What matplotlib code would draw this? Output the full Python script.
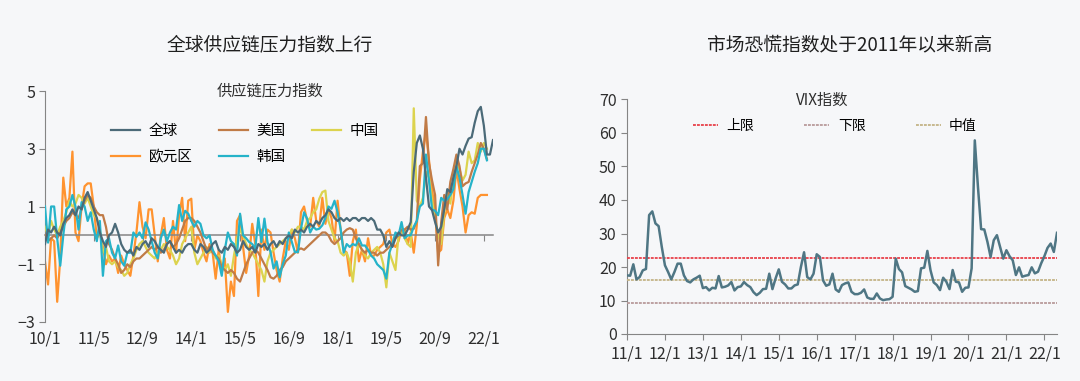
import numpy as np
import matplotlib
matplotlib.use('Agg')
import matplotlib.pyplot as plt

plt.rcParams['font.family'] = ['Noto Sans CJK SC', 'DejaVu Sans']

nan = np.nan

# ---- left chart: supply chain pressure index, monthly 2010/1 - 2022/4 ----
supply_global = [
    -0.3, 0.2, 0.1, 0.3, 0.1, 0.0, 0.4, 0.6, 0.7, 0.9, 0.7, 1.0,
    0.9, 1.3, 1.5, 1.2, 0.9, 0.6, 0.1, -0.2, -0.4, 0.0, 0.1, 0.4,
    0.1, -0.3, -0.5, -0.6, -0.5, -0.7, -0.4, -0.5, -0.3, -0.2, -0.4, -0.1,
    -0.2, -0.4, -0.5, -0.6, -0.3, -0.2, -0.4, -0.6, -0.5, -0.6, -0.4, -0.3,
    -0.3, -0.5, -0.6, -0.3, -0.4, -0.6, -0.5, -0.3, -0.2, -0.5, -0.6, -0.4,
    -0.5, -0.3, -0.4, -0.6, -0.5, -0.2, -0.4, -0.5, -0.4, -0.6, -0.3, -0.4,
    -0.3, -0.5, -0.3, -0.2, -0.4, -0.2, -0.3, -0.1, 0.0, -0.1, 0.2, 0.1,
    0.2, 0.1, 0.3, 0.4, 0.3, 0.5, 0.4, 0.6, 0.7, 0.9, 0.8, 0.6,
    0.5, 0.6, 0.5, 0.6, 0.5, 0.6, 0.6, 0.5, 0.6, 0.6, 0.5, 0.6,
    0.5, 0.2, 0.2, 0.0, -0.4, -0.2, -0.4, -0.1, 0.1, 0.0, 0.0, 0.2,
    0.46, 2.2, 3.2, 3.46, 3.0, 2.0, 1.0, 0.87, 0.46, 0.1, 0.3, 0.9,
    1.6, 1.5, 2.0, 2.4, 3.0, 2.8, 3.1, 3.35, 3.4, 3.9, 4.3, 4.45,
    3.8, 2.8, 2.8, 3.3,
]
supply_us = [
    0.0, -0.2, -0.1, 0.0, -0.1, 0.1, 0.3, 0.5, 0.6, 0.8, 0.7, 0.6,
    0.9, 1.2, 1.4, 1.3, 1.0, 0.8, 0.7, 0.7, 0.3, -0.3, -0.5, -0.8,
    -1.0, -1.3, -1.2, -1.0, -1.1, -0.9, -0.8, -0.8, -0.7, -0.6, -0.5, -0.4,
    -0.5, -0.4, -0.6, -0.5, -0.3, -0.2, -0.4, -0.3, -0.1, 0.2, 0.5, 0.6,
    0.6, 0.5, 0.3, 0.1, -0.2, -0.5, -0.4, -0.6, -0.7, -0.8, -1.1, -1.2,
    -1.3, -1.2, -1.3, -1.5, -1.6, -1.3, -1.0, -0.8, -0.6, -0.5, -0.6, -0.8,
    -1.0, -1.2, -1.45, -1.5, -1.4, -1.2, -1.1, -0.9, -0.8, -0.7, -0.6, -0.5,
    -0.45, -0.5, -0.4, -0.3, -0.2, -0.1, 0.0, 0.1, 0.1, 0.0, -0.2, -0.3,
    -0.2, -0.1, 0.1, 0.2, 0.25, 0.2, -0.1, -0.3, -0.5, -0.6, -0.5, -0.6,
    -0.6, -0.7, -0.6, -0.6, -0.5, -0.4, -0.3, -0.1, 0.0, 0.2, 0.2, 0.3,
    0.2, 0.23, 0.5, 2.4, 2.5, 4.1, 2.5, 1.9, 1.4, -1.04, 0.46, 1.4,
    0.9, 1.85, 2.3, 2.8, 2.4, 1.7, 1.8, 1.85, 2.2, 2.5, 2.8, 3.2,
    3.0, 2.65, nan, nan,
]
supply_cn = [
    0.3, 0.0, 0.5, 0.2, 0.0, 0.3, 0.5, 0.8, 1.2, 1.0, 1.1, 1.4,
    1.3, 1.1, 1.3, 1.0, 0.7, 0.6, 0.2, -0.6, -0.4, -0.9, -1.0, -0.9,
    -1.1, -1.2, -1.4, -1.3, -1.0, -0.8, -0.5, -0.3, -0.2, -0.4, -0.6, -0.7,
    -0.8, -0.6, -0.5, -0.3, -0.4, -0.5, -0.7, -1.0, -0.8, -0.3, -0.1, 0.1,
    0.3, -0.6, -1.0, -0.8, -0.6, -0.4, -0.6, -0.5, -0.8, -0.7, -1.0, -1.2,
    -1.0, -1.4, -0.7, -0.1, 0.2, 0.0, -0.3, -0.5, -0.6, -0.8, -1.0, -1.2,
    -1.6, -0.9, -0.6, -0.5, -0.4, -0.3, -0.2, -0.1, 0.0, 0.2, 0.1, 0.3,
    0.3, 0.2, 0.5, 0.6, 0.8, 0.9, 1.27, 1.5, 1.55, 0.5, 0.2, -0.1,
    -0.2, -0.6, -0.7, -0.6, -0.9, -1.6, -0.6, -0.3, -0.5, -0.7, -0.8, -0.6,
    -0.5, -0.4, -0.6, -1.0, -1.8, -0.6, -0.9, -1.2, 0.0, 0.2, -0.1, -0.3,
    -0.4, 4.4, 1.2, 1.0, 1.3, 2.2, 2.0, 1.2, 0.6, 0.0, -0.3, 0.8,
    1.5, 1.1, 2.0, 2.6, 2.3, 1.9, 2.1, 2.9, 2.5, 2.6, 3.2, 2.9,
    3.2, 3.0, nan, nan,
]
supply_eu = [
    -0.9, -1.7, -0.1, -0.2, -2.3, -0.8, 2.0, 1.0, 1.3, 2.9, 0.1, -0.2,
    1.0, 1.7, 1.8, 1.8, 1.0, -0.1, 0.1, -0.4, -1.0, -0.7, -0.9, -0.8,
    -1.3, -0.7, -1.0, -1.2, -1.4, -0.7, 0.1, 1.15, 0.3, -0.1, 0.9, 0.9,
    0.0, -0.9, 0.0, 0.6, -0.5, -0.8, 0.5, -0.6, 0.7, 1.3, -0.2, 1.2,
    1.27, -0.5, 0.0, -0.2, -0.6, -0.9, -0.3, -0.6, -1.5, -0.5, -1.3, -0.8,
    -2.65, -1.6, -2.1, 0.5, 0.7, -0.4, -1.3, -0.7, 0.4, -0.3, -2.1, 0.2,
    -0.5, 0.2, 0.1, -0.6, -1.2, -1.6, -0.8, -0.2, -0.5, 0.2, -0.1, -0.6,
    0.8, 1.0, 0.5, 0.3, 1.3, 0.5, 0.3, 1.3, 0.4, 0.9, 0.6, -0.2,
    1.2, 0.2, -0.5, -0.6, -1.4, -0.2, 0.2, -0.9, -0.5, -0.9, -0.1, -0.7,
    -0.7, -0.5, -0.4, -0.3, 0.1, 0.2, -0.3, -0.4, -0.2, 0.2, 0.2, -0.3,
    0.1, -0.6, 0.35, 1.95, 2.9, 3.6, 2.6, 1.6, 0.8, -0.6, -0.5, 0.6,
    0.9, 0.6, 1.2, 2.3, 1.6, 1.0, 0.1, 0.7, 0.8, 0.75, 1.3, 1.4,
    1.4, 1.4, nan, nan,
]
supply_kr = [
    1.0, -0.25, 1.0, 1.0, -0.1, -1.05, 0.0, 0.9, 1.0, 1.4, 1.0, 0.2,
    1.15, 1.0, 0.5, 0.8, 0.2, -0.2, 0.5, -1.4, -0.2, -0.1, -0.6, -0.8,
    -0.35, -0.9, -1.05, -0.6, -0.6, 0.1, -0.05, 0.1, -0.1, 0.45, 0.2, -0.2,
    -0.6, -0.8, -0.1, 0.2, -0.2, 0.1, 0.3, 0.2, 1.05, 0.5, 0.85, 0.75,
    0.5, 0.3, 0.5, 0.4, 0.0, -0.1, 0.0, -0.5, -0.7, -0.9, -1.4, -0.5,
    0.1, -0.2, -0.3, -0.7, 0.75, 0.0, -0.1, -0.23, -0.3, -0.46, 0.6, -0.23,
    0.58, -0.23, -0.58, -1.15, -0.9, -1.45, -1.0, -0.7, 0.1, -0.23, -0.58, -0.58,
    0.23, 0.8, 0.58, 0.1, 0.3, 0.2, 0.23, 0.35, 0.6, 1.0, 0.92, 1.2,
    0.8, 0.23, -0.6, -0.3, -0.4, -0.3, -0.35, -0.1, -0.35, -0.35, -0.5, -0.7,
    -0.8, -1.0, -1.1, -1.2, -1.5, -0.6, -0.3, 0.1, 0.0, 0.46, -0.1, 0.0,
    0.0, 0.3, 0.5, 1.0, 1.1, 2.8, 1.9, 0.9, 0.85, 0.7, 1.3, 1.2,
    1.25, 1.4, 1.6, 2.4, 2.0, 1.4, 0.75, 1.5, 1.85, 2.2, 2.5, 3.0,
    3.0, 2.6, nan, nan,
]
supply_xticks = [0, 16, 32, 48, 64, 80, 96, 112, 128, 144]
supply_xlabels = ['10/1', '11/5', '12/9', '14/1', '15/5', '16/9', '18/1', '19/5', '20/9', '22/1']

# ---- right chart: VIX monthly average 2011/1 - 2022/5 ----
vix = [
    17.5, 17.4, 20.8, 16.3, 17.0, 19.0, 19.4, 35.5, 36.6, 33.0, 32.2, 26.0,
    20.5, 18.5, 16.3, 18.5, 21.0, 21.0, 17.5, 15.8, 15.4, 16.3, 16.8, 17.4,
    13.7, 14.0, 13.0, 13.8, 13.6, 17.3, 13.9, 14.1, 14.5, 15.5, 13.0, 14.0,
    14.2, 15.5, 14.6, 14.0, 12.5, 11.6, 12.3, 13.4, 13.5, 18.0, 13.4, 16.6,
    19.3, 15.6, 14.8, 13.6, 13.6, 14.5, 14.8, 20.0, 24.4, 17.0, 16.3, 18.0,
    23.8, 23.0, 16.0, 14.4, 14.8, 18.0, 13.3, 12.6, 14.6, 15.1, 15.4, 12.6,
    11.9, 11.9, 12.3, 13.3, 10.9, 10.5, 10.5, 12.1, 10.6, 10.1, 10.3, 10.4,
    11.1, 22.5, 19.4, 18.4, 14.3, 13.8, 13.3, 12.6, 12.8, 19.6, 19.8, 24.8,
    19.0, 15.4, 14.6, 13.1, 16.8, 15.6, 13.4, 19.1, 15.6, 15.4, 12.6, 13.8,
    13.9, 19.6, 57.8, 43.9, 31.3, 31.2, 27.5, 23.0, 28.0, 29.5, 26.0, 22.5,
    25.0, 23.2, 22.0, 17.6, 19.9, 17.1, 17.4, 17.6, 19.9, 18.1, 18.6, 21.1,
    23.2, 25.7, 27.0, 24.5, 30.2,
]
vix_upper = 22.7
vix_lower = 9.2
vix_median = 16.0
vix_xticks = [0, 12, 24, 36, 48, 60, 72, 84, 96, 108, 120, 132]
vix_xlabels = ['11/1', '12/1', '13/1', '14/1', '15/1', '16/1', '17/1', '18/1', '19/1', '20/1', '21/1', '22/1']
vix_yticks = [0, 10, 20, 30, 40, 50, 60, 70]

W, H = 1080, 381
bg = '#f6f7f9'
axis_gray = '#858585'
text_dark = '#2e2e2e'


def box(left, top, right, bottom):
    return [left / W, 1 - bottom / H, (right - left) / W, (bottom - top) / H]


fig = plt.figure(figsize=(W / 100, H / 100), dpi=100)
fig.patch.set_facecolor(bg)

# ------------------------- left panel -------------------------
ax1 = fig.add_axes(box(45, 91, 493, 322))
ax1.set_facecolor('none')
x1 = np.arange(len(supply_global))
series = [
    ('全球', supply_global, '#4b6a78'),
    ('欧元区', supply_eu, '#ff932f'),
    ('美国', supply_us, '#c07b47'),
    ('韩国', supply_kr, '#25b3c9'),
    ('中国', supply_cn, '#dcd34e'),
]
draw_order = ['欧元区', '中国', '美国', '韩国', '全球']
lines = {}
for name, vals, col in series:
    ln, = ax1.plot(x1, np.array(vals, dtype=float), color=col, lw=1.6,
                   zorder=2 + draw_order.index(name), label=name)
    lines[name] = ln

ax1.set_xlim(0, len(supply_global) - 1)
ax1.set_ylim(-3, 5)
ax1.set_yticks([-3, -1, 1, 3, 5])
for s in ['top', 'right']:
    ax1.spines[s].set_visible(False)
ax1.spines['left'].set_color(axis_gray)
ax1.spines['bottom'].set_position(('data', 0))
ax1.spines['bottom'].set_color(axis_gray)
ax1.spines['bottom'].set_linewidth(1.1)
ax1.set_xticks(supply_xticks)
ax1.tick_params(axis='x', labelbottom=False, length=4, color=axis_gray)
ax1.tick_params(axis='y', length=4, color=axis_gray, labelsize=11.5, labelcolor=text_dark, pad=3)

sec1 = ax1.secondary_xaxis(0.0)
sec1.set_xticks(supply_xticks, supply_xlabels)
sec1.spines['bottom'].set_visible(False)
sec1.tick_params(length=0, labelsize=11.5, labelcolor=text_dark, pad=6)

ax1.legend([lines[n] for n, _, _ in series], [n for n, _, _ in series],
           ncol=3, frameon=False, fontsize=10.5, handlelength=2.0,
           handletextpad=0.6, columnspacing=1.8, labelspacing=0.85,
           loc='center', bbox_to_anchor=(245 / W, 1 - 144 / H),
           bbox_transform=fig.transFigure)

fig.text(270 / W, 1 - 45 / H, '全球供应链压力指数上行', ha='center', va='center',
         fontsize=13.5, color='#1f1f1f')
fig.text(270 / W, 1 - 91 / H, '供应链压力指数', ha='center', va='center',
         fontsize=11, color=text_dark)

# ------------------------- right panel -------------------------
ax2 = fig.add_axes(box(627, 99.5, 1057, 334))
ax2.set_facecolor('none')
x2 = np.arange(len(vix))
ax2.plot(x2, vix, color='#4f7684', lw=1.8, zorder=4)
h_up = ax2.axhline(vix_upper, color='#e8414a', lw=1.3, ls=(0, (1.6, 0.6)), zorder=3)
h_lo = ax2.axhline(vix_lower, color='#b89b9b', lw=1.3, ls=(0, (1.6, 0.6)), zorder=3)
h_md = ax2.axhline(vix_median, color='#c4b487', lw=1.3, ls=(0, (1.6, 0.6)), zorder=3)

ax2.set_xlim(0, len(vix) - 1)
ax2.set_ylim(0, 70)
ax2.set_yticks(vix_yticks)
ax2.set_xticks(vix_xticks, vix_xlabels)
for s in ['top', 'right']:
    ax2.spines[s].set_visible(False)
for s in ['left', 'bottom']:
    ax2.spines[s].set_color(axis_gray)
ax2.tick_params(length=4, color=axis_gray, labelsize=11.5, labelcolor=text_dark)
ax2.tick_params(axis='x', pad=4)

ax2.legend([h_up, h_lo, h_md], ['上限', '下限', '中值'], ncol=3, frameon=False,
           fontsize=10, handlelength=1.8, handletextpad=0.6, columnspacing=3.6,
           loc='center', bbox_to_anchor=(835 / W, 1 - 126 / H),
           bbox_transform=fig.transFigure)

fig.text(850 / W, 1 - 45 / H, '市场恐慌指数处于2011年以来新高', ha='center', va='center',
         fontsize=13.5, color='#1f1f1f')
fig.text(822 / W, 1 - 100 / H, 'VIX指数', ha='center', va='center',
         fontsize=11, color=text_dark)

fig.savefig('out.png', dpi=100, facecolor=fig.get_facecolor())
